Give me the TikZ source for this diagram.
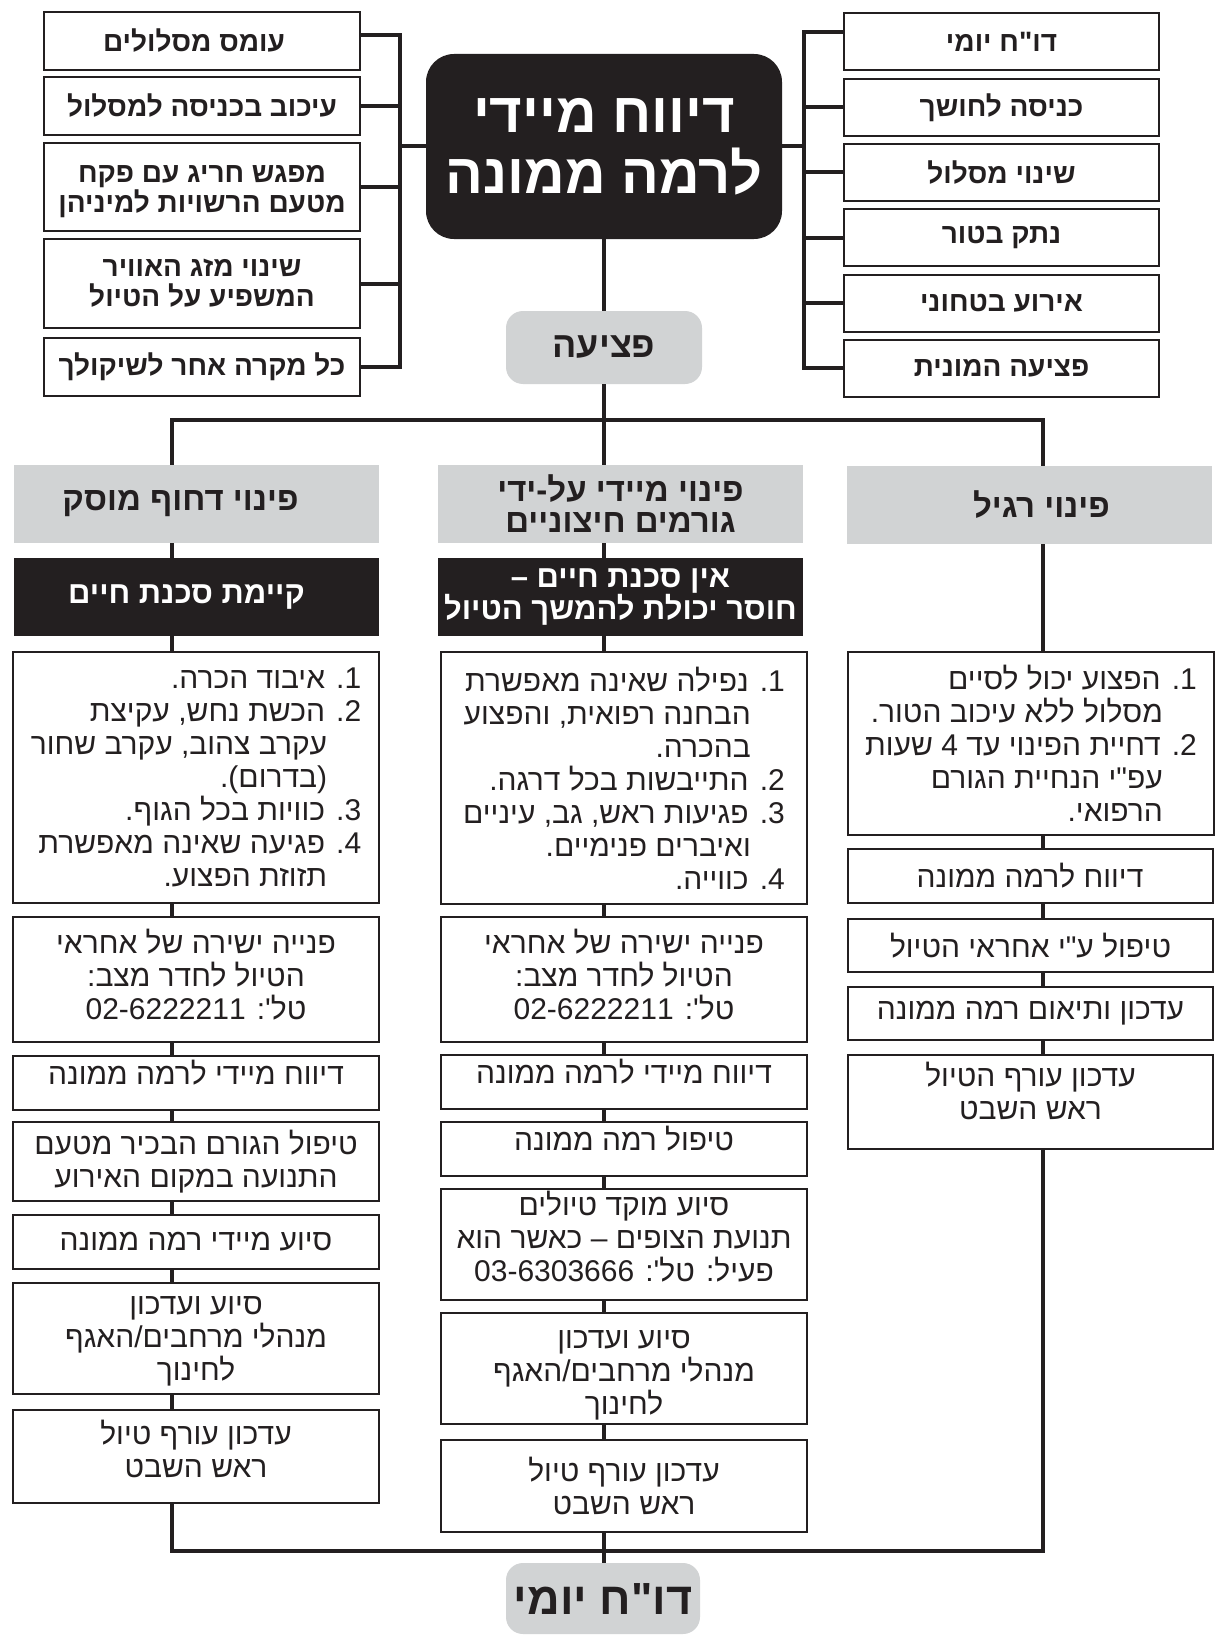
\documentclass[tikz,border=0pt]{standalone}
\usepackage{fontspec}
\newfontfamily\heb[Script=Hebrew]{Liberation Sans}
\TeXXeTstate=1
\definecolor{ink}{HTML}{231F20}
\definecolor{gry}{HTML}{D1D3D4}
\newcommand\rl[1]{\beginR #1\endR}
\newcommand\rli[1]{\beginR #1\endR\kern 34pt}
\newcommand\num[1]{#1\kern0pt.}
\newcommand\topstrut[1]{\rule{0pt}{#1pt}}
\tikzset{
  conn/.style={draw=ink, line width=4pt},
  brk/.style={draw=ink, line width=4pt, line join=miter},
  wh/.style 2 args={minimum width=#1pt, minimum height=#2pt},
  box/.style={draw=ink, line width=2pt, fill=white, inner sep=0pt, align=center, text=ink,
              font=\heb\fontsize{30}{33}\selectfont},
  listbox/.style={box, align=right},
  topbox/.style={box, font=\heb\bfseries\fontsize{28}{30}\selectfont},
  head/.style={fill=gry, inner sep=0pt, align=center, text=ink,
              font=\heb\bfseries\fontsize{33}{31}\selectfont},
  dark/.style={fill=ink, inner sep=0pt, align=center, text=white,
              font=\heb\bfseries\fontsize{31}{32}\selectfont},
  mainbox/.style={fill=ink, rounded corners=28pt, inner sep=0pt, align=center, text=white,
              font=\heb\bfseries\fontsize{56}{61}\selectfont},
  pill/.style={fill=gry, rounded corners=17pt, inner sep=0pt, align=center, text=ink,
              font=\heb\bfseries\fontsize{36}{36}\selectfont},
  lift/.style={text depth=#1pt},
}
\begin{document}
\begin{tikzpicture}[x=1pt,y=-1pt]
\useasboundingbox (0,0) rectangle (1216,1640);
\fill[white] (0,0) rectangle (1216,1640);

% ---- top left
\node[topbox, wh={316}{58}] (L1) at (202,41) {\rl{עומס מסלולים}\kern16pt};
\node[topbox, wh={316}{58}] (L2) at (202,106) {\rl{עיכוב בכניסה למסלול}};
\node[topbox, wh={316}{88}] (L3) at (202,187) {\topstrut{27}\rl{מפגש חריג עם פקח}\\\rl{מטעם הרשויות למיניהן}};
\node[topbox, wh={316}{89}] (L4) at (202,283.5) {\rl{שינוי מזג האוויר}\\\rl{המשפיע על הטיול}};
\node[topbox, wh={316}{58}] (L5) at (202,367) {\rl{כל מקרה אחר לשיקולך}};

% ---- top right
\node[topbox, wh={315}{57}] (R1) at (1001.5,42) {\rl{דו"ח יומי}};
\node[topbox, wh={315}{57}] (R2) at (1001.5,107.5) {\rl{כניסה לחושך}};
\node[topbox, wh={315}{57}] (R3) at (1001.5,172.5) {\rl{שינוי מסלול}};
\node[topbox, wh={315}{57}] (R4) at (1001.5,237.5) {\rl{נתק בטור}};
\node[topbox, wh={315}{57}] (R5) at (1001.5,303) {\rl{אירוע בטחוני}};
\node[topbox, wh={315}{57}] (R6) at (1001.5,368) {\rl{פציעה המונית}};

% ---- centre
\node[mainbox, wh={356}{185}] (main) at (604,146.5) {\rl{דיווח מיידי}\\\rl{לרמה ממונה}};
\node[pill, wh={196}{73}] (inj) at (604,347.5) {\rl{פציעה}};

% ---- column headers
\node[head, wh={365}{78}] (HL) at (196.5,504) {\rl{פינוי דחוף מוסק}\kern32pt};
\node[head, wh={365}{78}] (HM) at (620.5,504) {\rl{פינוי מיידי על-ידי}\\\rl{גורמים חיצוניים}};
\node[head, wh={365}{78}] (HR) at (1029.5,505) {\kern24pt\rl{פינוי רגיל}};
\node[dark, wh={365}{78}] (BL) at (196.5,597) {\rl{קיימת סכנת חיים}\kern20pt};
\node[dark, wh={365}{78}] (BM) at (620.5,597) {\rl{אין סכנת חיים –}\\\rl{חוסר יכולת להמשך הטיול}};

% ---- lists
\node[listbox, wh={366}{251}] (LL) at (196,777.5) {%
\rl{\num{1} איבוד הכרה.}\\
\rl{\num{2} הכשת נחש, עקיצת}\\
\rli{עקרב צהוב, עקרב שחור}\\
\rli{(בדרום).}\\
\rl{\num{3} כוויות בכל הגוף.}\\
\rl{\num{4} פגיעה שאינה מאפשרת}\\
\rli{תזוזת הפצוע.}};
\node[listbox, wh={366}{252}] (LM) at (624,778) {%
\rl{\num{1} נפילה שאינה מאפשרת}\\
\rli{הבחנה רפואית, והפצוע}\\
\rli{בהכרה.}\\
\rl{\num{2} התייבשות בכל דרגה.}\\
\rl{\num{3} פגיעות ראש, גב, עיניים}\\
\rli{ואיברים פנימיים.}\\
\rl{\num{4} כווייה.}};
\node[listbox, wh={366}{183}] (LR) at (1031,743.5) {%
\rl{\num{1} הפצוע יכול לסיים}\\
\rli{מסלול ללא עיכוב הטור.}\\
\rl{\num{2} דחיית הפינוי עד 4 שעות}\\
\rli{עפ"י הנחיית הגורם}\\
\rli{הרפואי.}};

% ---- left column
\node[box, wh={366}{125}, lift=11] (La) at (196,979.5) {\rl{פנייה ישירה של אחראי}\\\rl{הטיול לחדר מצב:}\\\rl{טל': \beginL 02-6222211\endL}};
\node[box, wh={366}{54}, lift=22] (Lb) at (196,1083) {\rl{דיווח מיידי לרמה ממונה}};
\node[box, wh={366}{79}] (Lc) at (196,1161.5) {\rl{טיפול הגורם הבכיר מטעם}\\\rl{התנועה במקום האירוע}};
\node[box, wh={366}{54}] (Ld) at (196,1242) {\rl{סיוע מיידי רמה ממונה}};
\node[box, wh={366}{111}] (Le) at (196,1338.5) {\topstrut{24}\rl{סיוע ועדכון}\\\rl{מנהלי מרחבים/האגף}\\\rl{לחינוך}};
\node[box, wh={366}{93}, lift=16] (Lf) at (196,1456.5) {\rl{עדכון עורף טיול}\\\rl{ראש השבט}};

% ---- middle column
\node[box, wh={366}{125}, lift=11] (Ma) at (624,979.5) {\rl{פנייה ישירה של אחראי}\\\rl{הטיול לחדר מצב:}\\\rl{טל': \beginL 02-6222211\endL}};
\node[box, wh={366}{54}, lift=22] (Mb) at (624,1082) {\rl{דיווח מיידי לרמה ממונה}};
\node[box, wh={366}{54}, lift=22] (Mc) at (624,1149) {\rl{טיפול רמה ממונה}};
\node[box, wh={366}{111}, lift=16] (Md) at (624,1244.5) {\rl{סיוע מוקד טיולים}\\\rl{תנועת הצופים – כאשר הוא}\\\rl{פעיל: טל': \beginL 03-6303666\endL}};
\node[box, wh={366}{111}] (Me) at (624,1368.5) {\topstrut{32}\rl{סיוע ועדכון}\\\rl{מנהלי מרחבים/האגף}\\\rl{לחינוך}};
\node[box, wh={366}{92}] (Mf) at (624,1486) {\rl{עדכון עורף טיול}\\\rl{ראש השבט}};

% ---- right column
\node[box, wh={365}{54}] (Rb) at (1030,876) {\rl{דיווח לרמה ממונה}};
\node[box, wh={365}{53}] (Rc) at (1030.5,945.5) {\rl{טיפול ע"י אחראי הטיול}};
\node[box, wh={365}{53}] (Rd) at (1030.5,1013.5) {\rl{עדכון ותיאום רמה ממונה}};
\node[box, wh={365}{94}, lift=22] (Re) at (1030.5,1102) {\rl{עדכון עורף הטיול}\\\rl{ראש השבט}};

% ---- bottom
\node[pill, wh={194}{71}, font=\heb\bfseries\fontsize{45}{45}\selectfont] (daily) at (603,1598.5) {\rl{דו"ח יומי}};

% ---- helper coordinates
\coordinate (colL) at (172,420);
\coordinate (colM) at (604,420);
\coordinate (colR) at (1043,420);
\coordinate (busB) at (604,1551);
\coordinate (brL) at (400,0);
\coordinate (brR) at (804,0);

% ---- brackets
\draw[brk] ([yshift=6pt]L1.east) -- ([yshift=6pt]L1.east -| brL) -- (L5.east -| brL) -- (L5.east);
\foreach \n in {L2,L3,L4} \draw[brk] (\n.east) -- (\n.east -| brL);
\draw[brk] (main.west) -- (main.west -| brL);
\draw[brk] ([yshift=10pt]R1.west) -- ([yshift=10pt]R1.west -| brR) -- (R6.west -| brR) -- (R6.west);
\foreach \n in {R2,R3,R4,R5} \draw[brk] (\n.west) -- (\n.west -| brR);
\draw[brk] (main.east) -- (main.east -| brR);

% ---- spine and buses
\draw[conn] (main.south) -- (inj.north);
\draw[conn] (inj.south) -- (inj.south |- HM.north);
\draw[brk] (HL.north -| colL) -- (colL) -- (colR) -- (HR.north -| colR);
\foreach \a/\b in {HL/BL,BL/LL,LL/La,La/Lb,Lb/Lc,Lc/Ld,Ld/Le,Le/Lf}
  \draw[conn] (\a.south -| colL) -- (\b.north -| colL);
\foreach \a/\b in {HM/BM,BM/LM,LM/Ma,Ma/Mb,Mb/Mc,Mc/Md,Md/Me,Me/Mf}
  \draw[conn] (\a.south -| colM) -- (\b.north -| colM);
\foreach \a/\b in {HR/LR,LR/Rb,Rb/Rc,Rc/Rd,Rd/Re}
  \draw[conn] (\a.south -| colR) -- (\b.north -| colR);
\draw[brk] (Lf.south -| colL) -- (busB -| colL) -- (busB -| colR) -- (Re.south -| colR);
\draw[conn] (Mf.south -| colM) -- (daily.north -| colM);
\end{tikzpicture}
\end{document}
